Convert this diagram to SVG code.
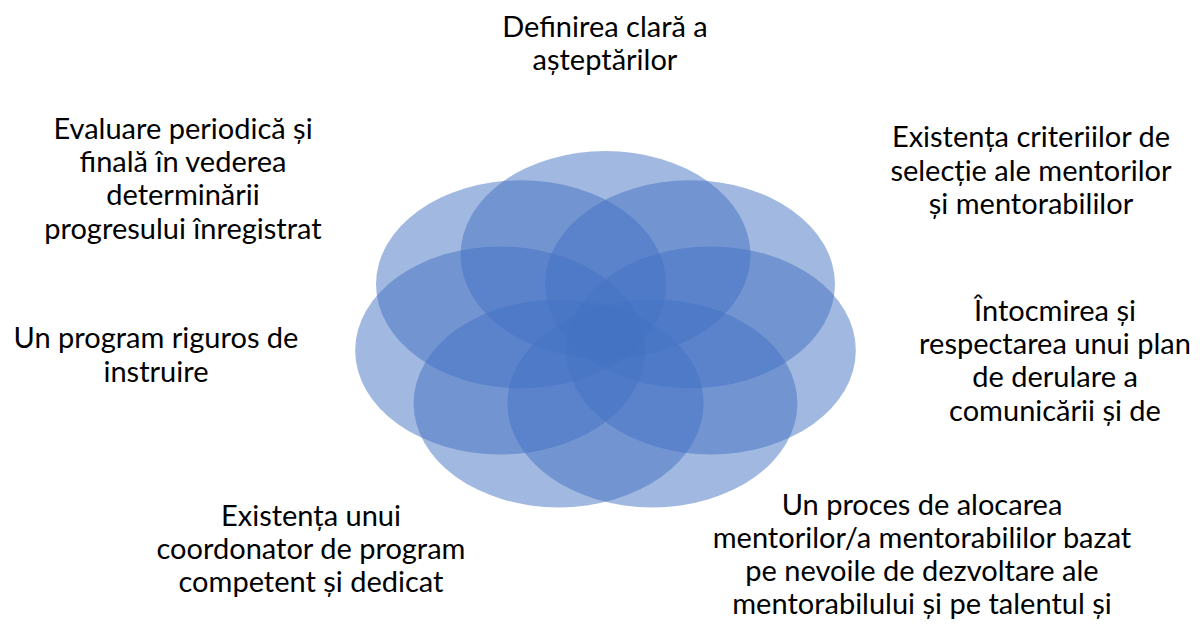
<svg xmlns="http://www.w3.org/2000/svg" width="1201" height="626" viewBox="0 0 1201 626">
<style>
.petal{fill:#4472C4;fill-opacity:0.5;stroke:none}
.lbl{font-family:Lato,"Liberation Sans",sans-serif;font-size:29px;fill:#000;text-anchor:middle}
</style>
<rect width="1201" height="626" fill="#fff"/>
<g id="petals">
<ellipse id="p1" class="petal" cx="605.5" cy="255" rx="145" ry="104"/>
<ellipse id="p2" class="petal" cx="690" cy="284.3" rx="145" ry="104"/>
<ellipse id="p3" class="petal" cx="710.8" cy="350.4" rx="145" ry="104"/>
<ellipse id="p4" class="petal" cx="652.4" cy="403.4" rx="145" ry="104"/>
<ellipse id="p5" class="petal" cx="558.6" cy="403.4" rx="145" ry="104"/>
<ellipse id="p6" class="petal" cx="500.2" cy="350.4" rx="145" ry="104"/>
<ellipse id="p7" class="petal" cx="521" cy="284.3" rx="145" ry="104"/>
</g>
<g id="connectors"/>
<g id="n1"><text class="lbl"><tspan x="605" y="37">Definirea clară a</tspan><tspan x="605" y="70">așteptărilor</tspan></text></g>
<g id="n2"><text class="lbl"><tspan x="1031" y="147">Existența criteriilor de</tspan><tspan x="1031" y="181">selecție ale mentorilor</tspan><tspan x="1031" y="214">și mentorabililor</tspan></text></g>
<g id="n3"><text class="lbl"><tspan x="1055" y="321">Întocmirea și</tspan><tspan x="1055" y="354">respectarea unui plan</tspan><tspan x="1055" y="387">de derulare a</tspan><tspan x="1055" y="421">comunicării și de</tspan></text></g>
<g id="n4"><text class="lbl"><tspan x="922" y="515">Un proces de alocarea</tspan><tspan x="922" y="548">mentorilor/a mentorabililor bazat</tspan><tspan x="922" y="581">pe nevoile de dezvoltare ale</tspan><tspan x="922" y="614">mentorabilului și pe talentul și</tspan></text></g>
<g id="n5"><text class="lbl"><tspan x="311" y="526">Existența unui</tspan><tspan x="311" y="559">coordonator de program</tspan><tspan x="311" y="592">competent și dedicat</tspan></text></g>
<g id="n6"><text class="lbl"><tspan x="156" y="348">Un program riguros de</tspan><tspan x="156" y="382">instruire</tspan></text></g>
<g id="n7"><text class="lbl"><tspan x="183" y="139">Evaluare periodică și</tspan><tspan x="183" y="172">finală în vederea</tspan><tspan x="183" y="205">determinării</tspan><tspan x="183" y="239">progresului înregistrat</tspan></text></g>
</svg>
